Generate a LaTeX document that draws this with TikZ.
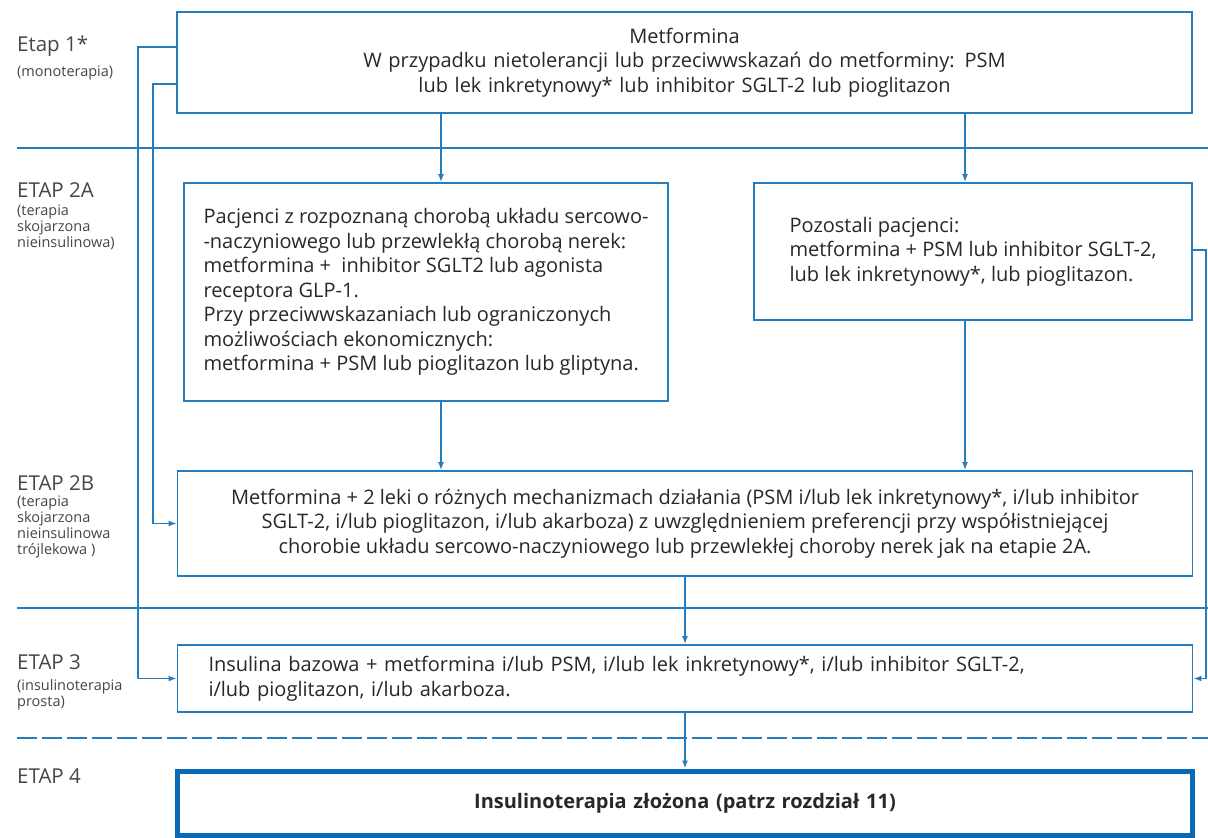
\documentclass[tikz,border=0pt]{standalone}
\usepackage{fontspec}
\setmainfont{Open Sans}
\usetikzlibrary{arrows.meta,calc}
\definecolor{bl}{RGB}{38,125,190}
\definecolor{bldark}{RGB}{10,105,180}
\definecolor{txt}{RGB}{40,40,40}
\definecolor{lbl}{RGB}{70,70,70}
\newcommand{\mainsz}{\fontsize{20}{24.5}\selectfont}
\newcommand{\ttlsz}{\fontsize{20.5}{24}\selectfont}
\newcommand{\subsz}{\fontsize{14.5}{15.7}\selectfont}
\begin{document}
\begin{tikzpicture}[x=1pt,y=-1pt,
  box/.style={draw=bl,line width=1.8pt,rectangle,inner ysep=0pt,text=txt,font=\mainsz},
  arr/.style={draw=bl,line width=1.6pt,-{Latex[length=8pt,width=6pt]}},
  sep/.style={draw=bl,line width=1.8pt},
  ttl/.style={anchor=base west,inner sep=0pt,text=lbl,font=\ttlsz},
  sub/.style={anchor=base west,inner sep=0pt,text=lbl,font=\subsz,align=left}
]
\useasboundingbox (0,0) rectangle (1208,838);
\fill[white] (0,0) rectangle (1208,838);

% separators
\draw[sep] (17,148) -- (1208,148);
\draw[sep] (17,608) -- (1208,608);
\draw[draw=bl,line width=2.5pt,dash pattern=on 20pt off 5pt] (17,738) -- (1208,738);

% boxes
\node[box,minimum width=1015pt,minimum height=101pt,align=center,text width=990pt,inner xsep=12.5pt] (m) at (684.5,62.5)
 {Metformina\\W przypadku nietolerancji lub przeciwwskazań do metforminy: PSM\\lub lek inkretynowy* lub inhibitor SGLT-2 lub pioglitazon};
\node[box,minimum width=484pt,minimum height=218pt,align=left,inner xsep=8pt] (a1) at (426,292)
 {Pacjenci z rozpoznaną chorobą układu sercowo-\\-naczyniowego lub przewlekłą chorobą nerek:\\metformina +~~inhibitor SGLT2 lub agonista\\receptora GLP-1.\\Przy przeciwwskazaniach lub ograniczonych\\możliwościach ekonomicznych:\\metformina + PSM lub pioglitazon lub gliptyna.};
\node[box,minimum width=438pt,minimum height=137pt,align=left,inner xsep=8pt] (a2) at (973,251.5)
 {Pozostali pacjenci:\\metformina + PSM lub inhibitor SGLT-2,\\lub lek inkretynowy*, lub pioglitazon.};
\node[box,minimum width=1015pt,minimum height=105pt,align=center,inner xsep=8pt] (b) at (685,523.5)
 {Metformina + 2 leki o różnych mechanizmach działania (PSM i/lub lek inkretynowy*, i/lub inhibitor\\SGLT-2, i/lub pioglitazon, i/lub akarboza) z uwzględnieniem preferencji przy współistniejącej\\chorobie układu sercowo-naczyniowego lub przewlekłej choroby nerek jak na etapie 2A.};
\node[box,minimum height=67pt,align=left,text width=953pt,inner xsep=31pt] (e3) at (685,678.5)
 {Insulina bazowa + metformina i/lub PSM, i/lub lek inkretynowy*, i/lub inhibitor SGLT-2,\\i/lub pioglitazon, i/lub akarboza.};
\node[box,draw=bldark,line width=5pt,minimum height=64pt,align=center,text width=990pt,inner xsep=12.5pt,font=\mainsz\bfseries] (e4) at (685,803)
 {Insulinoterapia złożona (patrz rozdział 11)};

% stage labels (sub-label coordinate = baseline of its last line)
\node[ttl] (t1) at (17,51) {Etap 1*};
\node[sub] (s1) at (17,76) {(monoterapia)};
\node[ttl] (t2) at (17,197) {ETAP 2A};
\node[sub] (s2) at (17,247) {(terapia\\skojarzona\\nieinsulinowa)};
\node[ttl] (t3) at (17,490) {ETAP 2B};
\node[sub] (s3) at (17,554) {(terapia\\skojarzona\\nieinsulinowa\\trójlekowa )};
\node[ttl] (t4) at (17,669) {ETAP 3};
\node[sub] (s4) at (17,706) {(insulinoterapia\\prosta)};
\node[ttl] (t5) at (17,783) {ETAP 4};

% connector guide coordinates
\coordinate (cx1) at (441,0);
\coordinate (cx2) at (965,0);
\coordinate (L1) at (138,47);
\coordinate (L2) at (153,84);
\coordinate (R1) at (1206,250);

% vertical arrows
\draw[arr] (m.south -| cx1) -- (a1.north -| cx1);
\draw[arr] (m.south -| cx2) -- (a2.north -| cx2);
\draw[arr] (a1.south -| cx1) -- (b.north -| cx1);
\draw[arr] (a2.south -| cx2) -- (b.north -| cx2);
\draw[arr] (b.south) -- (e3.north);
\draw[arr] (e3.south) -- (e4.north);

% side connectors
\draw[arr] (m.west |- L1) -- (L1) |- (e3.west);
\draw[arr] (m.west |- L2) -- (L2) |- (b.west);
\draw[arr] (a2.east |- R1) -- (R1) |- (e3.east);
\end{tikzpicture}
\end{document}
